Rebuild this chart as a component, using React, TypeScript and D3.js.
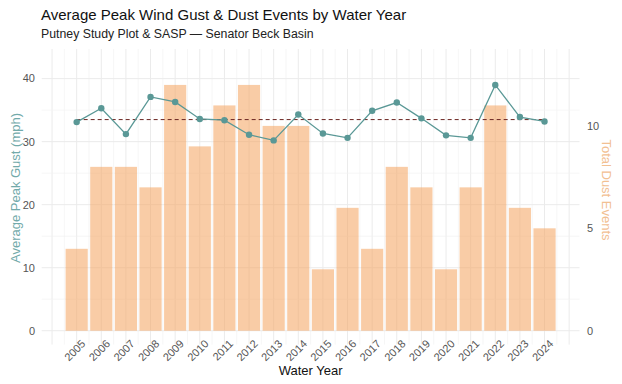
import React from "react";
import * as d3 from "d3";

const years = [2005, 2006, 2007, 2008, 2009, 2010, 2011, 2012, 2013, 2014, 2015, 2016, 2017, 2018, 2019, 2020, 2021, 2022, 2023, 2024];
const gust = [33.1, 35.3, 31.2, 37.1, 36.3, 33.6, 33.4, 31.1, 30.2, 34.3, 31.3, 30.6, 34.9, 36.2, 33.7, 31.0, 30.6, 39.0, 33.9, 33.2];
const dust = [4, 8, 8, 7, 12, 9, 11, 12, 10, 10, 3, 6, 4, 8, 7, 3, 7, 11, 6, 5];
const leftTicks = [0, 10, 20, 30, 40];
const rightTicks = [0, 5, 10];

const W = 622;
const H = 384;
const FONT = "'Liberation Sans', Arial, sans-serif";

export default function App() {
  const x = d3.scaleLinear().domain([2003.58, 2025.42]).range([41.7, 579.5]);
  const y = d3.scaleLinear().domain([-2.2, 44.7]).range([344.6, 49]);
  const factor = (d3.max(gust) as number) / (d3.max(dust) as number);
  const yR = d3.scaleLinear().domain([-2.2 / factor, 44.7 / factor]).range([344.6, 49]);
  const mean = d3.mean(gust) as number;
  const [x0, x1] = x.range();
  const [yb, yt] = y.range();

  const vMajor = d3.range(2004, 2026, 1);
  const vMinor = d3.range(2004.5, 2025, 1);
  const hMajor = leftTicks;
  const hMinor = [5, 15, 25, 35];

  const barW = x(2005.45) - x(2004.55);
  const line = d3.line<number>().x((_, i) => x(years[i])).y((d) => y(d));

  const pointColor = "#5A9896";

  return (
    <svg width={W} height={H} style={{ position: "absolute", left: 0, top: 0, background: "#fff" }} fontFamily={FONT}>
      <text x={41} y={20} fontSize={15} fill="#111">Average Peak Wind Gust &amp; Dust Events by Water Year</text>
      <text x={41} y={38} fontSize={12.3} fill="#222">Putney Study Plot &amp; SASP — Senator Beck Basin</text>

      {/* grid */}
      {vMinor.map((v) => (
        <line key={"vm" + v} x1={x(v)} x2={x(v)} y1={yt} y2={yb} stroke="#f2f2f2" strokeWidth={0.7} />
      ))}
      {vMajor.map((v) => (
        <line key={"vM" + v} x1={x(v)} x2={x(v)} y1={yt} y2={yb} stroke="#ebebeb" strokeWidth={1} />
      ))}
      {hMinor.map((v) => (
        <line key={"hm" + v} x1={x0} x2={x1} y1={y(v)} y2={y(v)} stroke="#f2f2f2" strokeWidth={0.7} />
      ))}
      {hMajor.map((v) => (
        <line key={"hM" + v} x1={x0} x2={x1} y1={y(v)} y2={y(v)} stroke="#ebebeb" strokeWidth={1} />
      ))}

      {/* bars */}
      {dust.map((d, i) => (
        <rect
          key={"b" + i}
          x={x(years[i]) - barW / 2}
          width={barW}
          y={yR(d)}
          height={yR(0) - yR(d)}
          fill="#F4A460"
          fillOpacity={0.56}
        />
      ))}

      {/* mean dashed line */}
      <line x1={x(years[0])} x2={x(years[years.length - 1])} y1={y(mean)} y2={y(mean)} stroke="#6B2420" strokeWidth={1} strokeDasharray="4,3" />

      {/* gust line */}
      <path d={line(gust) || ""} fill="none" stroke={pointColor} strokeWidth={1.3} />
      {gust.map((g, i) => (
        <circle key={"p" + i} cx={x(years[i])} cy={y(g)} r={3.2} fill={pointColor} />
      ))}

      {/* left axis */}
      {leftTicks.map((t) => (
        <text key={"lt" + t} x={35} y={y(t)} dy="0.35em" textAnchor="end" fontSize={11} fill="#555">{t}</text>
      ))}
      {/* right axis */}
      {rightTicks.map((t) => (
        <text key={"rt" + t} x={587} y={yR(t)} dy="0.35em" textAnchor="start" fontSize={11} fill="#555">{t}</text>
      ))}

      {/* x axis labels */}
      {years.map((yr) => (
        <text
          key={"xt" + yr}
          transform={`translate(${x(yr) + 4},${339}) rotate(-45)`}
          dy="0.71em"
          textAnchor="end"
          fontSize={11}
          fill="#555"
        >
          {yr}
        </text>
      ))}

      <text x={(x0 + x1) / 2} y={375} textAnchor="middle" fontSize={13} fill="#111">Water Year</text>
      <text transform={`translate(20,188) rotate(-90)`} textAnchor="middle" fontSize={13} fill="#72AAAA">Average Peak Gust (mph)</text>
      <text transform={`translate(602,190) rotate(90)`} textAnchor="middle" fontSize={13} fill="#F2C092">Total Dust Events</text>
    </svg>
  );
}
